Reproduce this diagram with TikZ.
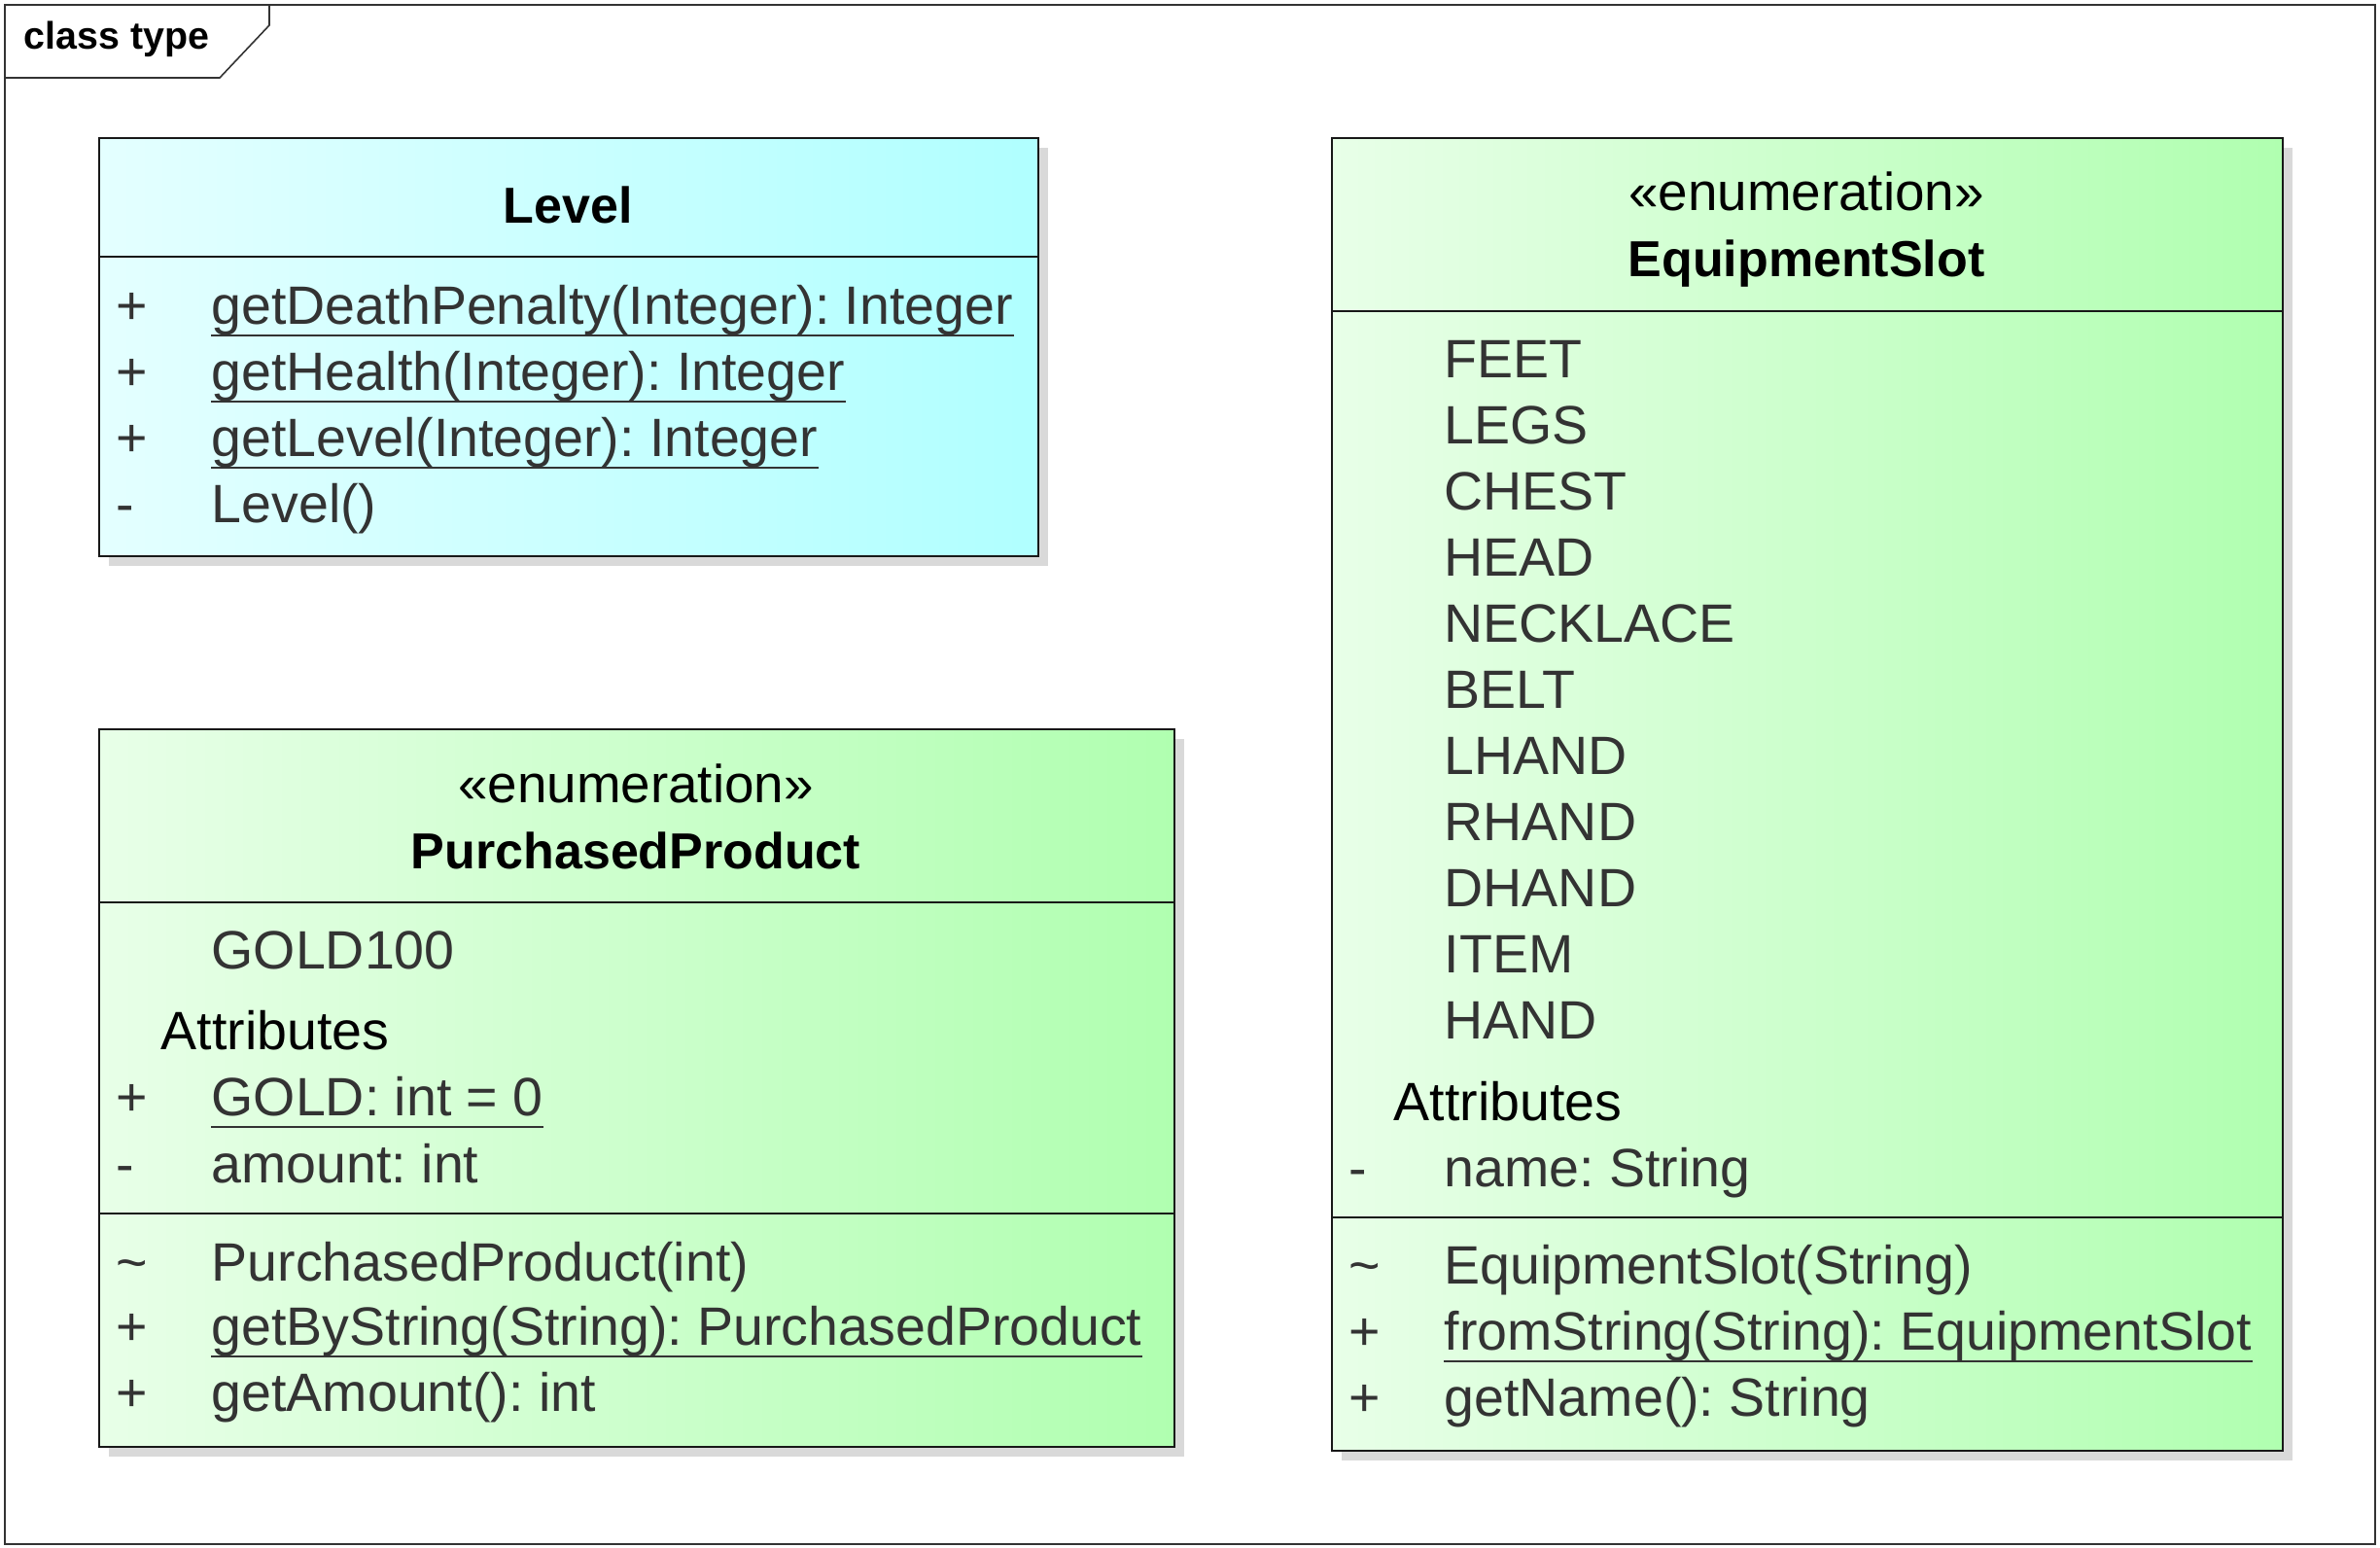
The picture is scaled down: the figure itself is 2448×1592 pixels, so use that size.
\documentclass[tikz,border=0pt]{standalone}
\usepackage{fontspec}
\setmainfont{Liberation Sans}
\usetikzlibrary{shadows}
\frenchspacing
\definecolor{umlcyanL}{RGB}{228,255,255}
\definecolor{umlcyanR}{RGB}{176,255,255}
\definecolor{umlgreenL}{RGB}{232,255,232}
\definecolor{umlgreenR}{RGB}{176,255,176}
\definecolor{umltext}{RGB}{51,51,51}
\definecolor{umlline}{RGB}{24,24,24}
\begin{document}
\begin{tikzpicture}[x=0.1mm, y=-0.1mm,
  box/.style={draw=umlline, line width=0.55pt, inner sep=0, anchor=north west,
    drop shadow={shadow xshift=1mm, shadow yshift=-1mm, fill=black!15, opacity=1}},
  cyanbox/.style={box, left color=umlcyanL, right color=umlcyanR},
  greenbox/.style={box, left color=umlgreenL, right color=umlgreenR},
  sep/.style={draw=umlline, line width=0.55pt},
  member/.style={anchor=base west, inner sep=0, text=umltext, font=\fontsize{15.8}{19}\selectfont},
  section/.style={anchor=base west, inner sep=0, font=\fontsize{15.8}{19}\selectfont},
  stereo/.style={anchor=base, inner sep=0, font=\fontsize{15.6}{19}\selectfont},
  cname/.style={anchor=base, inner sep=0, font=\bfseries\fontsize{14.8}{18}\selectfont},
  uline/.style={draw=umltext, line width=0.45pt}]
\useasboundingbox (0,0) rectangle (2448,1592);
% Frame
\draw[black!80, line width=0.45pt] (5,5) rectangle (2443,1588);
\draw[black!80, line width=0.45pt] (5,80) -- (226,80) -- (277,26) -- (277,5);
\node[anchor=base west, inner sep=0, font=\bfseries\fontsize{11.2}{13}\selectfont] (frame) at (24,50) {class type};
% Level
\node[cyanbox, minimum width=96.6mm, minimum height=43mm] (level) at (101,141) {};
\draw[sep] (101,264) -- (1067,264);
\node[cname] (levelname) at (584,229) {Level};
\node[member] (lv1) at (119,333) {+};
\node[member] (ldeath) at (217,333) {getDeathPenalty(Integer): Integer};
\draw[uline] ([yshift=-1.2mm]ldeath.base west) -- ([yshift=-1.2mm]ldeath.base east);
\node[member] (lv2) at (119,401) {+};
\node[member] (lhealth) at (217,401) {getHealth(Integer): Integer};
\draw[uline] ([yshift=-1.2mm]lhealth.base west) -- ([yshift=-1.2mm]lhealth.base east);
\node[member] (lv3) at (119,469) {+};
\node[member] (llevel) at (217,469) {getLevel(Integer): Integer};
\draw[uline] ([yshift=-1.2mm]llevel.base west) -- ([yshift=-1.2mm]llevel.base east);
\node[member] (lv4) at (119,537) {-};
\node[member] (lctor) at (217,537) {Level()};
% PurchasedProduct
\node[greenbox, minimum width=110.6mm, minimum height=73.8mm] (product) at (101,749) {};
\draw[sep] (101,928) -- (1207,928);
\draw[sep] (101,1248) -- (1207,1248);
\node[stereo] (pstereo) at (654,825) {«enumeration»};
\node[cname] (pname) at (654,893) {PurchasedProduct};
\node[member] (pgold100) at (217,996) {GOLD100};
\node[section] (pattr) at (165,1079) {Attributes};
\node[member] (pv1) at (119,1147) {+};
\node[member] (pgold) at (217,1147) {GOLD: int = 0};
\draw[uline] ([yshift=-1.2mm]pgold.base west) -- ([yshift=-1.2mm]pgold.base east);
\node[member] (pv2) at (119,1216) {-};
\node[member] (pamount) at (217,1216) {amount: int};
\node[member] (pv3) at (119,1317) {\textasciitilde};
\node[member] (pctor) at (217,1317) {PurchasedProduct(int)};
\node[member] (pv4) at (119,1383) {+};
\node[member] (pbystr) at (217,1383) {getByString(String): PurchasedProduct};
\draw[uline] ([yshift=-1.2mm]pbystr.base west) -- ([yshift=-1.2mm]pbystr.base east);
\node[member] (pv5) at (119,1451) {+};
\node[member] (pgetamount) at (217,1451) {getAmount(): int};
% EquipmentSlot
\node[greenbox, minimum width=97.8mm, minimum height=135mm] (slot) at (1369,141) {};
\draw[sep] (1369,320) -- (2347,320);
\draw[sep] (1369,1252) -- (2347,1252);
\node[stereo] (sstereo) at (1858,216) {«enumeration»};
\node[cname] (sname) at (1858,284) {EquipmentSlot};
\node[member] (sfeet) at (1485,388) {FEET};
\node[member] (slegs) at (1485,456) {LEGS};
\node[member] (schest) at (1485,524) {CHEST};
\node[member] (shead) at (1485,592) {HEAD};
\node[member] (sneck) at (1485,660) {NECKLACE};
\node[member] (sbelt) at (1485,728) {BELT};
\node[member] (slhand) at (1485,796) {LHAND};
\node[member] (srhand) at (1485,864) {RHAND};
\node[member] (sdhand) at (1485,932) {DHAND};
\node[member] (sitem) at (1485,1000) {ITEM};
\node[member] (shand) at (1485,1068) {HAND};
\node[section] (sattr) at (1433,1152) {Attributes};
\node[member] (sv1) at (1387,1220) {-};
\node[member] (sfield) at (1485,1220) {name: String};
\node[member] (sv2) at (1387,1320) {\textasciitilde};
\node[member] (sctor) at (1485,1320) {EquipmentSlot(String)};
\node[member] (sv3) at (1387,1388) {+};
\node[member] (sfrom) at (1485,1388) {fromString(String): EquipmentSlot};
\draw[uline] ([yshift=-1.2mm]sfrom.base west) -- ([yshift=-1.2mm]sfrom.base east);
\node[member] (sv4) at (1387,1456) {+};
\node[member] (sgetname) at (1485,1456) {getName(): String};
\end{tikzpicture}
\end{document}
